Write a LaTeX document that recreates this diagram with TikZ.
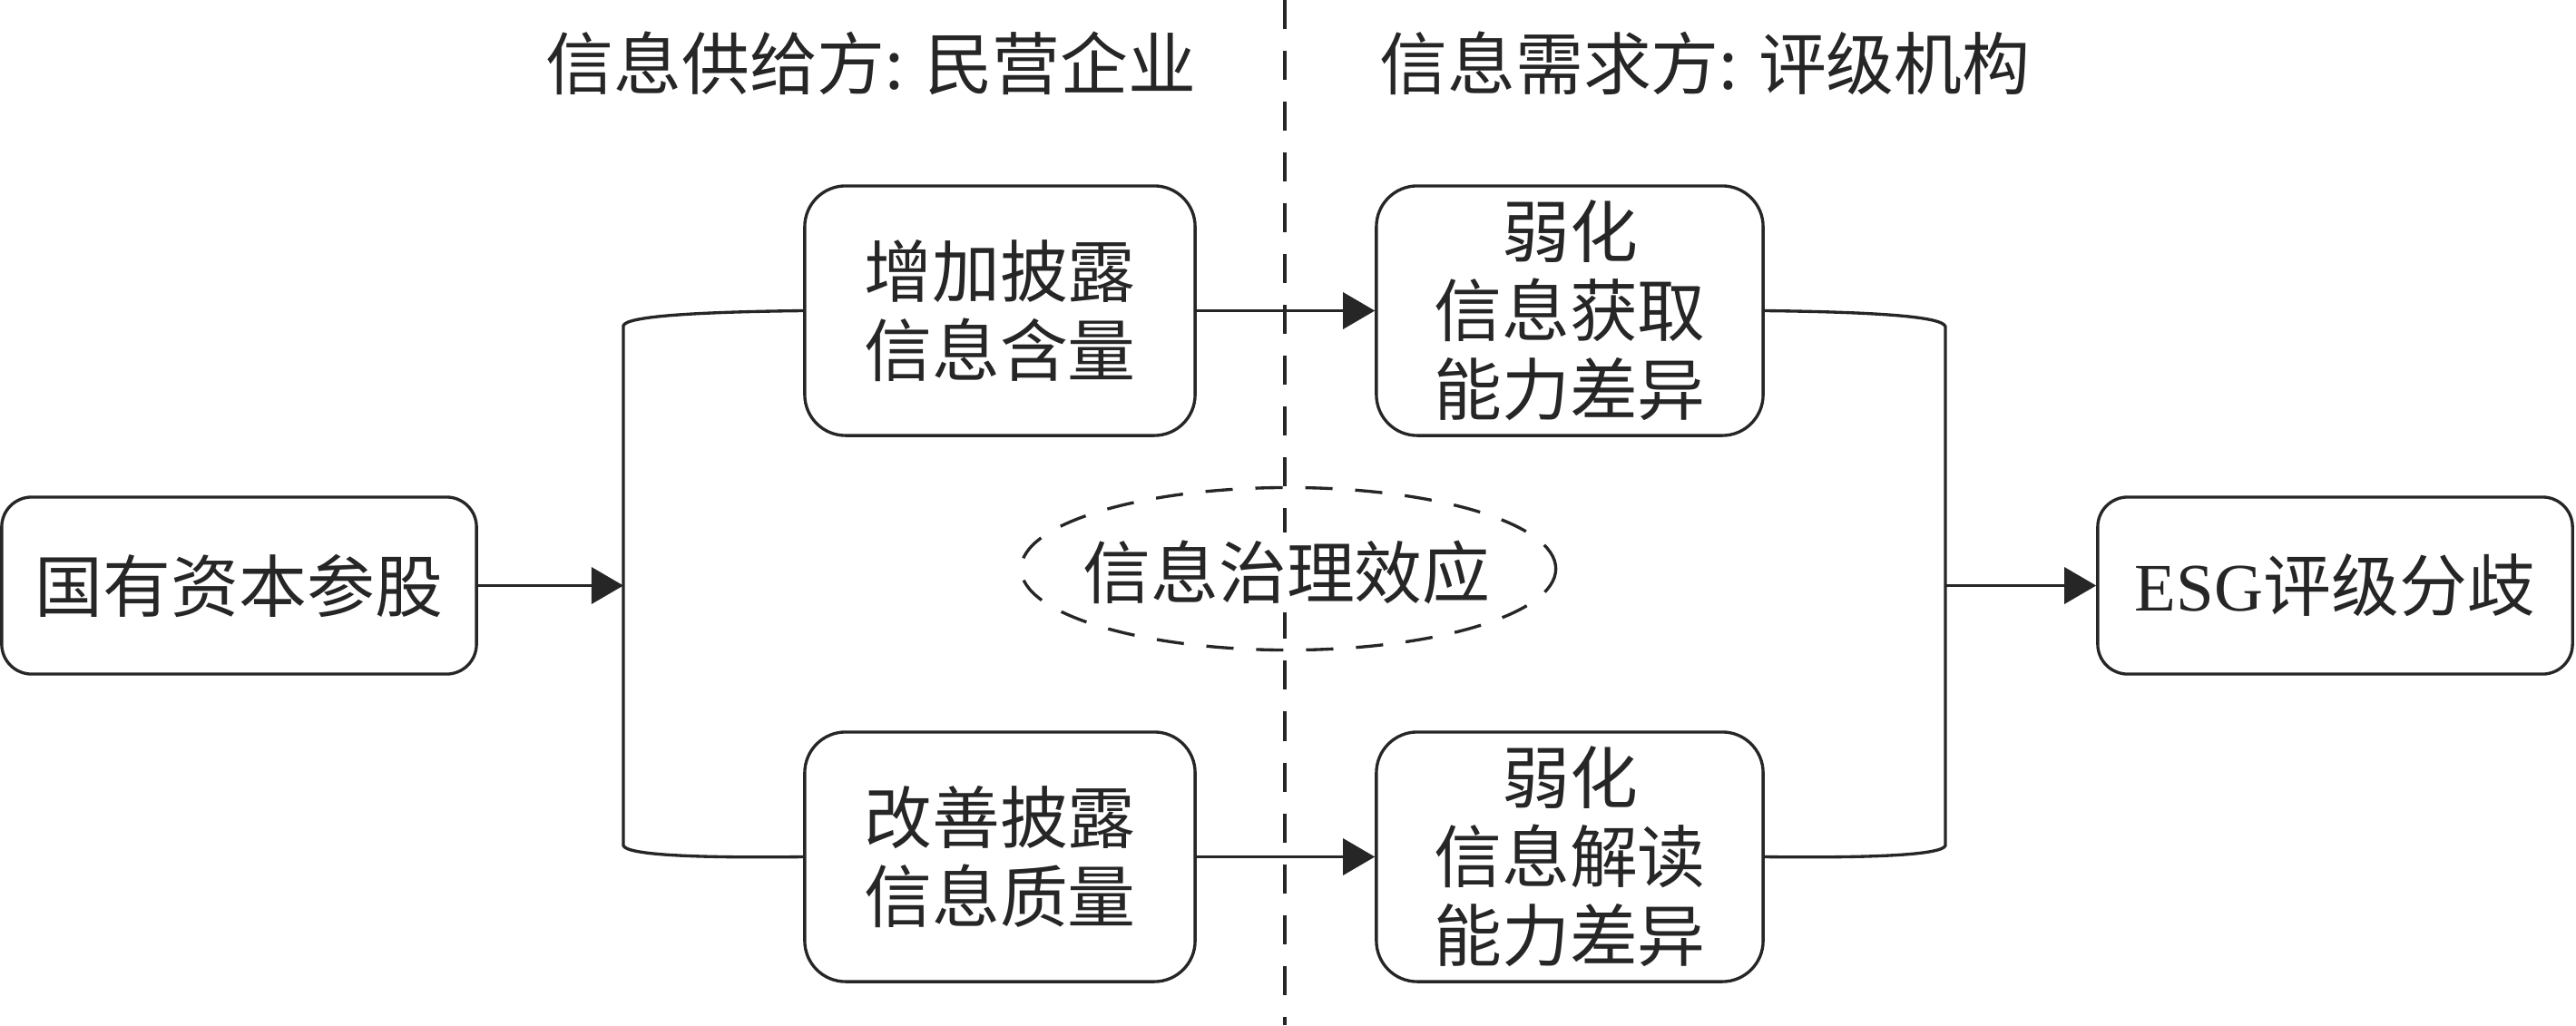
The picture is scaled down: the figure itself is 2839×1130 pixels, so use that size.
\documentclass[tikz,border=0pt]{standalone}
\usepackage{fontspec}
\setmainfont{Liberation Serif}
\newfontfamily\cjk{Noto Sans CJK SC}
\usetikzlibrary{arrows.meta,shapes.geometric}
\definecolor{ink}{RGB}{38,38,38}
\begin{document}
\begin{tikzpicture}[x=0.01cm,y=-0.01cm,
  line width=0.95pt, draw=ink, text=ink,
  every node/.style={font=\cjk\fontsize{21.3}{24.75}\selectfont, text=ink},
  box/.style={draw=ink, line width=0.95pt, align=center, inner sep=0pt},
  sidebox/.style={box, rounded corners=0.33cm, minimum width=5.23cm, minimum height=1.95cm},
  midbox/.style={box, rounded corners=0.45cm, minimum width=4.30cm, minimum height=2.75cm},
  rbox/.style={box, rounded corners=0.45cm, minimum width=4.26cm, minimum height=2.75cm},
  arr/.style={draw=ink, line width=0.95pt, -{Triangle[length=0.35cm,width=0.40cm]}},
  conn/.style={draw=ink, line width=0.95pt},
  divider/.style={draw=ink, line width=0.95pt, dash pattern=on 0.32cm off 0.24cm},
  dashell/.style={draw=ink, line width=0.95pt, dash pattern=on 0.30cm off 0.25cm, ellipse, inner sep=0pt}
]
\useasboundingbox (0,0) rectangle (2839,1130);
\fill[white] (0,0) rectangle (2839,1130);

% titles
\node (t1) at (960,70) {信息供给方: 民营企业};
\node (t2) at (1879,70) {信息需求方: 评级机构};

% boxes
\node[sidebox] (L) at (263.5,645.5) {国有资本参股};
\node[midbox] (m1) at (1102,342.5) {增加披露\\信息含量};
\node[midbox] (m2) at (1102,944.5) {改善披露\\信息质量};
\node[rbox] (r1) at (1730,342.5) {弱化\\信息获取\\能力差异};
\node[rbox] (r2) at (1730,944.5) {弱化\\信息解读\\能力差异};
\node[sidebox] (E) at (2573.5,645.5) {{\rmfamily ESG}评级分歧};

% junction points
\coordinate (jl) at (687,645.5);
\coordinate (jr) at (2144,645.5);

% brackets
\draw[conn] (m1.west) .. controls (760,344) and (690,349) .. (687,359) -- (687,932) .. controls (690,942) and (760,946) .. (m2.west);
\draw[conn] (r1.east) .. controls (2070,344) and (2141,349) .. (2144,360) -- (2144,932) .. controls (2141,942) and (2070,946) .. (r2.east);

% arrows
\draw[arr] (L.east) -- (jl);
\draw[arr] (m1.east) -- (r1.west);
\draw[arr] (m2.east) -- (r2.west);
\draw[arr] (jr) -- (E.west);

% divider
\coordinate (dtop) at (1416,0);
\coordinate (dbot) at (1416,1130);
\draw[divider] (dtop) -- (dbot);

% ellipse
\node[dashell, minimum width=5.89cm, minimum height=1.79cm] (ell) at (1420,627) {};
\node[fill=white, inner sep=0pt, minimum height=0.88cm] (eff) at (1418,631) {信息治理效应};
\end{tikzpicture}
\end{document}
